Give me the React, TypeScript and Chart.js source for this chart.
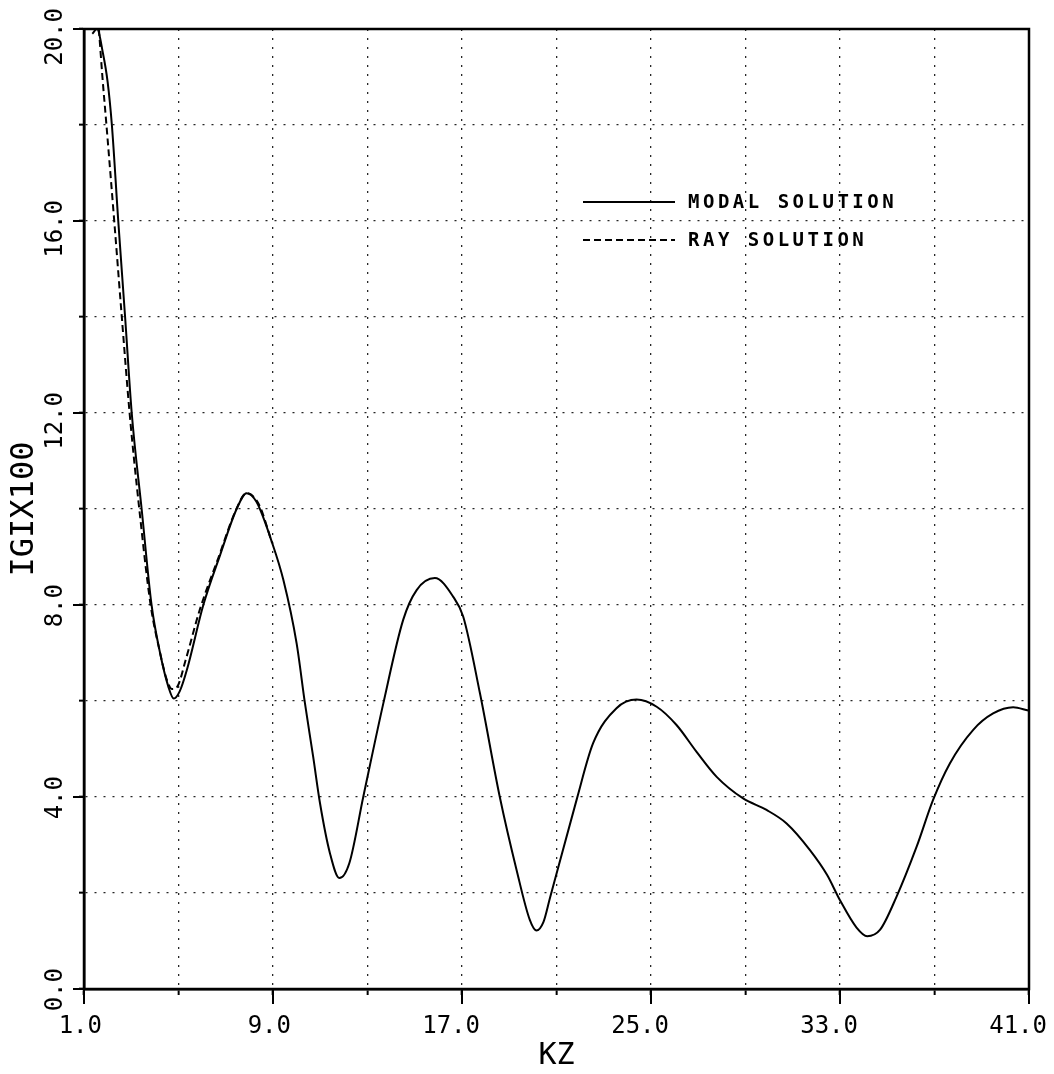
import React, { useEffect, useRef } from 'react';
import { Chart, registerables } from 'chart.js';

Chart.register(...registerables);

// ---- data ----
const modalKz = [1.35, 1.55, 1.8, 2.0, 2.18, 2.45, 2.74, 3.02, 3.44, 3.86, 4.22, 4.57, 4.8, 5.05, 5.35, 6.05, 6.76, 7.46, 7.88, 8.3, 8.96, 9.44, 10.0, 10.35, 10.7, 10.99, 11.41, 11.81, 12.23, 12.82, 13.67, 14.51, 15.08, 15.85, 16.63, 17.05, 17.76, 18.6, 19.31, 19.87, 20.15, 20.45, 20.72, 21.85, 22.55, 23.54, 24.39, 25.24, 26.08, 26.93, 27.78, 28.9, 29.89, 30.74, 31.72, 32.45, 33.0, 33.7, 34.15, 34.69, 35.39, 36.24, 36.94, 37.65, 38.64, 39.48, 40.33, 40.97];
const modalG = [19.9, 20.0, 19.5, 18.9, 18.0, 16.0, 14.0, 12.0, 10.0, 8.0, 7.0, 6.3, 6.05, 6.2, 6.64, 8.0, 9.04, 10.0, 10.33, 10.15, 9.3, 8.52, 7.2, 5.96, 4.84, 3.87, 2.83, 2.31, 2.62, 4.0, 5.95, 7.69, 8.31, 8.56, 8.17, 7.76, 6.16, 4.0, 2.48, 1.44, 1.22, 1.4, 1.89, 3.94, 5.12, 5.85, 6.03, 5.88, 5.5, 4.94, 4.42, 3.97, 3.73, 3.45, 2.9, 2.38, 1.85, 1.28, 1.1, 1.23, 1.92, 2.96, 3.94, 4.7, 5.4, 5.74, 5.87, 5.8];
const rayKz = [1.63, 1.78, 1.95, 2.28, 2.6, 2.93, 3.34, 3.82, 4.2, 4.5, 4.72, 4.95, 5.3, 5.9, 6.7, 7.45, 7.88, 8.4, 8.96];
const rayG = [20.0, 19.0, 18.0, 16.0, 14.0, 12.0, 10.0, 8.0, 7.05, 6.45, 6.25, 6.3, 6.85, 7.9, 9.0, 10.0, 10.33, 10.1, 9.3];

const seriesLabels = ['MODAL SOLUTION', 'RAY SOLUTION'];
const xLabelValues = [1, 9, 17, 25, 33, 41];
const yLabelValues = [0, 4, 8, 12, 16, 20];
const xTitle = 'KZ';
const yTitle = 'IGIX100';

const MONO = '"DejaVu Sans Mono", monospace';

const framePlugin = {
  id: 'frameAndLegend',
  afterDraw(chart: any) {
    const { ctx, chartArea: ca, scales } = chart;
    ctx.save();
    ctx.setLineDash([]);
    ctx.strokeStyle = '#000';
    ctx.lineWidth = 2.5;
    ctx.strokeRect(ca.left, ca.top, ca.right - ca.left, ca.bottom - ca.top);

    // longer ticks at labelled values
    ctx.lineWidth = 2;
    ctx.beginPath();
    for (const v of xLabelValues) {
      const px = scales.x.getPixelForValue(v);
      ctx.moveTo(px, ca.bottom);
      ctx.lineTo(px, ca.bottom + 15);
    }
    for (const v of yLabelValues) {
      const py = scales.y.getPixelForValue(v);
      ctx.moveTo(ca.left - 11, py);
      ctx.lineTo(ca.left, py);
    }
    ctx.stroke();

    // legend
    const x0 = ca.left + 499;
    chart.data.datasets.forEach((ds: any, i: number) => {
      const y = ca.top + 173 + i * 38;
      ctx.lineWidth = 2;
      ctx.setLineDash(ds.borderDash || []);
      ctx.beginPath();
      ctx.moveTo(x0, y);
      ctx.lineTo(x0 + 92, y);
      ctx.stroke();
      ctx.setLineDash([]);
      ctx.fillStyle = '#000';
      ctx.font = `bold 19px ${MONO}`;
      (ctx as any).letterSpacing = '3.5px';
      ctx.textAlign = 'left';
      ctx.textBaseline = 'middle';
      ctx.fillText(ds.label, x0 + 105, y + 1);
      (ctx as any).letterSpacing = '0px';
    });
    ctx.restore();
  },
};

export default function App() {
  const ref = useRef<HTMLCanvasElement | null>(null);

  useEffect(() => {
    if (!ref.current) return;
    const chart = new Chart(ref.current, {
      type: 'line',
      data: {
        datasets: [
          {
            label: seriesLabels[0],
            data: modalKz.map((x, i) => ({ x, y: modalG[i] })),
            borderColor: '#000',
            borderWidth: 2,
            pointRadius: 0,
            fill: false,
            cubicInterpolationMode: 'monotone',
          },
          {
            label: seriesLabels[1],
            data: rayKz.map((x, i) => ({ x, y: rayG[i] })),
            borderColor: '#000',
            borderWidth: 2,
            borderDash: [7, 4],
            pointRadius: 0,
            fill: false,
            cubicInterpolationMode: 'monotone',
          },
        ],
      },
      options: {
        responsive: false,
        devicePixelRatio: 1,
        animation: false,
        events: [],
        layout: { padding: { left: 0, right: 25, top: 29, bottom: 0 } },
        plugins: { legend: { display: false }, tooltip: { enabled: false } },
        scales: {
          x: {
            type: 'linear',
            min: 1,
            max: 41,
            afterFit: (s: any) => {
              s.height = 85;
              s.paddingLeft = 0;
              s.paddingRight = 0;
            },
            ticks: {
              stepSize: 4,
              autoSkip: false,
              maxRotation: 0,
              minRotation: 0,
              align: 'end',
              labelOffset: 18,
              padding: 17,
              color: '#000',
              font: { family: MONO, size: 24 },
              callback: (v: any) => (xLabelValues.includes(Number(v)) ? Number(v).toFixed(1) : ''),
            },
            grid: {
              color: 'rgba(0,0,0,0.85)',
              lineWidth: 1.3,
              tickLength: 6,
              tickColor: '#000',
              tickWidth: 2,
              tickBorderDash: [],
            },
            border: { display: true, color: '#000', width: 2.5, dash: [2, 7] },
            title: {
              display: true,
              text: xTitle,
              color: '#000',
              font: { family: MONO, size: 30 },
              padding: { top: 0, bottom: 0 },
            },
          },
          y: {
            type: 'linear',
            min: 0,
            max: 20,
            afterFit: (s: any) => {
              s.width = 84;
              s.paddingTop = 0;
              s.paddingBottom = 0;
            },
            ticks: {
              stepSize: 2,
              autoSkip: false,
              minRotation: 90,
              maxRotation: 90,
              crossAlign: 'near',
              labelOffset: -21,
              padding: 23,
              color: '#000',
              font: { family: MONO, size: 24 },
              callback: (v: any) => (yLabelValues.includes(Number(v)) ? Number(v).toFixed(1) : ''),
            },
            grid: {
              color: 'rgba(0,0,0,0.85)',
              lineWidth: 1.3,
              tickLength: 5,
              tickColor: '#000',
              tickWidth: 2,
              tickBorderDash: [],
            },
            border: { display: true, color: '#000', width: 2.5, dash: [2, 7] },
            title: {
              display: true,
              text: yTitle,
              color: '#000',
              font: { family: MONO, size: 32 },
              padding: { top: 5, bottom: 0 },
            },
          },
        },
      } as any,
      plugins: [framePlugin],
    });
    return () => chart.destroy();
  }, []);

  return (
    <div style={{ position: 'absolute', left: 0, top: 0, width: 1054, height: 1074, background: '#fff' }}>
      <canvas ref={ref} width={1054} height={1074} style={{ display: 'block' }} />
    </div>
  );
}
